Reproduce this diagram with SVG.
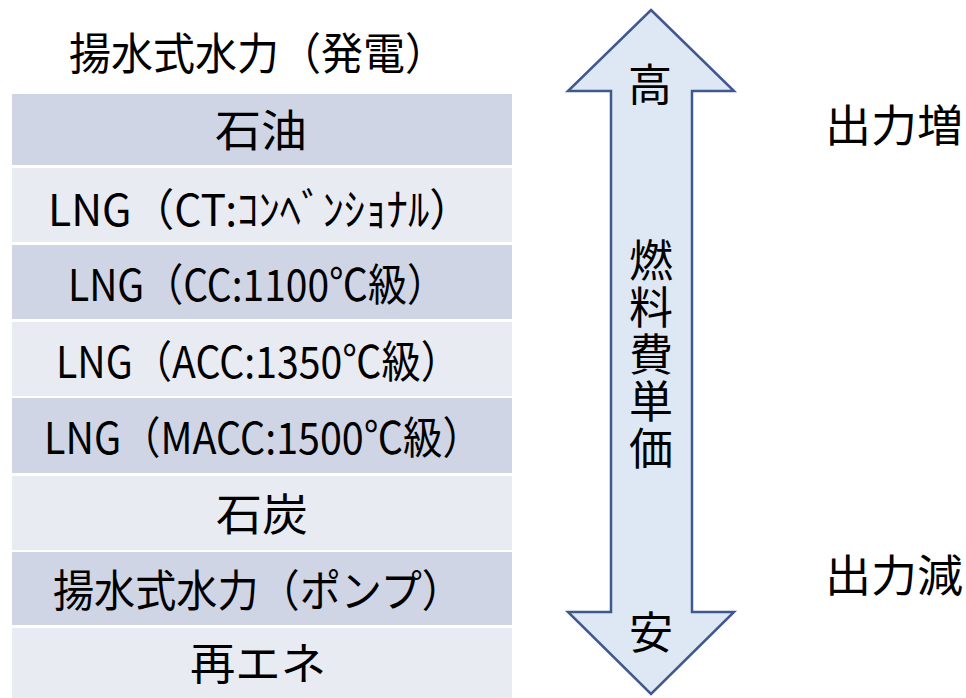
<svg xmlns="http://www.w3.org/2000/svg" width="966" height="698" viewBox="0 0 966 698">
<style>
text{font-family:"Noto Sans CJK JP","Noto Sans",sans-serif;fill:#000;text-anchor:middle;dominant-baseline:central}
.dk{fill:#CFD5E4}
.lt{fill:#E9EBF3}
.r{font-size:44px}
.big{font-size:44px}
</style>
<rect width="966" height="698" fill="#fff"/>
<text id="title" x="258" y="51" class="r" textLength="378" lengthAdjust="spacingAndGlyphs">揚水式水力（発電）</text>
<g id="row1"><rect class="dk" x="12" y="94" width="500" height="71"/><text class="r" x="261" y="128" textLength="92" lengthAdjust="spacingAndGlyphs">石油</text></g>
<g id="row2"><rect class="lt" x="12" y="168" width="500" height="74"/><text class="r" x="260" y="207" textLength="424" lengthAdjust="spacingAndGlyphs">LNG（CT:ｺﾝﾍﾞﾝｼｮﾅﾙ）</text></g>
<g id="row3"><rect class="dk" x="12" y="245" width="500" height="74"/><text class="r" x="257" y="282" textLength="378" lengthAdjust="spacingAndGlyphs">LNG（CC:1100℃級）</text></g>
<g id="row4"><rect class="lt" x="12" y="322" width="500" height="74"/><text class="r" x="258" y="359" textLength="404" lengthAdjust="spacingAndGlyphs">LNG（ACC:1350℃級）</text></g>
<g id="row5"><rect class="dk" x="12" y="398" width="500" height="75"/><text class="r" x="263" y="435" textLength="438" lengthAdjust="spacingAndGlyphs">LNG（MACC:1500℃級）</text></g>
<g id="row6"><rect class="lt" x="12" y="476" width="500" height="74"/><text class="r" x="262" y="512" textLength="92" lengthAdjust="spacingAndGlyphs">石炭</text></g>
<g id="row7"><rect class="dk" x="12" y="552" width="500" height="73"/><text class="r" x="258" y="588" textLength="410" lengthAdjust="spacingAndGlyphs">揚水式水力（ポンプ）</text></g>
<g id="row8"><rect class="lt" x="12" y="628" width="500" height="70"/><text class="r" x="258" y="661" textLength="136" lengthAdjust="spacingAndGlyphs">再エネ</text></g>
<g id="arrow">
<path d="M651,10 L734,91 L692,91 L692,612 L734,612 L651,694 L568,612 L611,612 L611,91 L568,91 Z" fill="#DEE8F4" stroke="#41578F" stroke-width="2.5" stroke-linejoin="miter"/>
<text class="big" x="650" y="82">高</text>
<text class="big" x="651" y="356" writing-mode="vertical-rl" letter-spacing="3">燃料費単価</text>
<text class="big" x="651" y="630">安</text>
</g>
<g id="labels">
<text class="big" x="894" y="123" textLength="138" lengthAdjust="spacingAndGlyphs">出力増</text>
<text class="big" x="894" y="573" textLength="138" lengthAdjust="spacingAndGlyphs">出力減</text>
</g>
</svg>
